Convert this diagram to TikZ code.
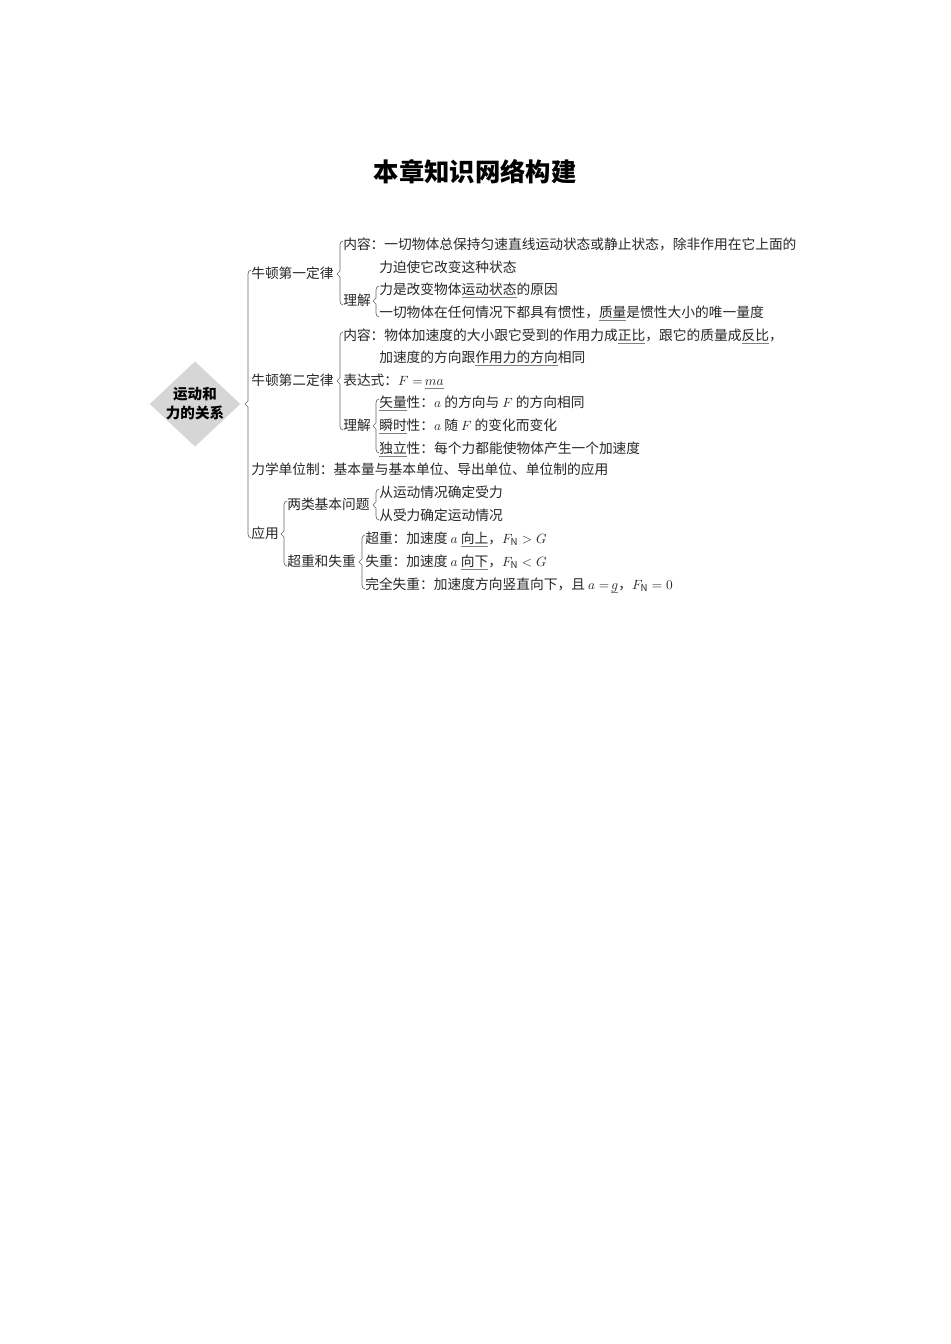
\documentclass[tikz,border=0pt]{standalone}
\usepackage{fontspec}
\setmainfont{Noto Sans CJK SC}
\usetikzlibrary{%
    calc,%
    shapes.geometric%
}

% Underlined blank, gray rule below the word
\newcommand{\fillin}[1]{%
    \setbox0\hbox{#1}\rlap{\color{black!50}\rule[-2.6pt]{\wd0}{0.5pt}}\box0}

% Thin bracket from a parent node to its first and last child
\newcommand{\branch}[3]{%
    \draw[branch line] ($(#2.west)+(0,-4)$) to[out=180,in=90] ($(#2.west)+(-3,0)$)
        -- ($(#1.east -| #2.west)+(-3,-3)$) -- ($(#1.east -| #2.west)+(-6,0)$)
        -- ($(#1.east -| #2.west)+(-3,3)$) -- ($(#3.west)+(-3,0)$)
        to[out=-90,in=180] ($(#3.west)+(0,4)$);}

\tikzset{
    item/.style={anchor=west, inner sep=0pt, text height=8.4pt, text depth=1.9pt,
        font=\fontsize{10.3}{12}\selectfont, text=black!85},
    branch line/.style={draw=black!60, line width=0.5pt},
    rootshape/.style={diamond, fill=black!16, minimum width=68pt, minimum height=64pt, inner sep=0pt}
}

\begin{document}
\begin{tikzpicture}[x=0.75pt,y=-0.75pt]
    \useasboundingbox (0,0) rectangle (950,1344);
    % Columns of the outline
    \pgfmathsetmacro{\colA}{251};
    \pgfmathsetmacro{\colB}{343};
    \pgfmathsetmacro{\colC}{379};

    % Title
    \node[font=\fontsize{19}{22}\selectfont\bfseries] (title) at (475,172) {本章知识网络构建};

    % Root diamond
    \node[rootshape] (root) at (195,404) {};
    \node[align=center, font=\fontsize{10.9}{14.2}\selectfont\bfseries] (roottext) at (root) {运动和\\力的关系};

    % First law
    \node[item] (law1) at (\colA,274) {牛顿第一定律};
    \node[item] (law1content) at (\colB,245) {内容：一切物体总保持匀速直线运动状态或静止状态，除非作用在它上面的};
    \node[item] (law1contentb) at (\colC,268) {力迫使它改变这种状态};
    \node[item] (law1grasp) at (\colB,301) {理解};
    \node[item] (law1graspA) at (\colC,290) {力是改变物体\fillin{运动状态}的原因};
    \node[item] (law1graspB) at (\colC,313) {一切物体在任何情况下都具有惯性，\fillin{质量}是惯性大小的唯一量度};

    % Second law
    \node[item] (law2) at (\colA,381) {牛顿第二定律};
    \node[item] (law2content) at (\colB,336) {内容：物体加速度的大小跟它受到的作用力成\fillin{正比}，跟它的质量成\fillin{反比}，};
    \node[item] (law2contentb) at (\colC,358) {加速度的方向跟\fillin{作用力的方向}相同};
    \node[item] (law2formula) at (\colB,381) {表达式：$F=$\,\fillin{$ma$}};
    \node[item] (law2grasp) at (\colB,426) {理解};
    \node[item] (law2graspA) at (\colC,403) {\fillin{矢量}性：$a$ 的方向与 $F$ 的方向相同};
    \node[item] (law2graspB) at (\colC,426) {\fillin{瞬时}性：$a$ 随 $F$ 的变化而变化};
    \node[item] (law2graspC) at (\colC,449) {\fillin{独立}性：每个力都能使物体产生一个加速度};

    % Units
    \node[item] (units) at (\colA,470) {力学单位制：基本量与基本单位、导出单位、单位制的应用};

    % Applications
    \node[item] (app) at (\colA,534) {应用};
    \node[item] (types) at (287,505) {两类基本问题};
    \node[item] (typesA) at (\colC,493) {从运动情况确定受力};
    \node[item] (typesB) at (\colC,516) {从受力确定运动情况};
    \node[item] (weight) at (287,562) {超重和失重};
    \node[item] (weightA) at (365,539) {超重：加速度 $a$ \fillin{向上}，$F_{\mathrm N}>G$};
    \node[item] (weightB) at (365,562) {失重：加速度 $a$ \fillin{向下}，$F_{\mathrm N}<G$};
    \node[item] (weightC) at (365,585) {完全失重：加速度方向竖直向下，且 $a=$\,\fillin{$g$}，$F_{\mathrm N}=0$};

    % Brackets
    \branch{root}{law1}{app}
    \branch{law1}{law1content}{law1grasp}
    \branch{law1grasp}{law1graspA}{law1graspB}
    \branch{law2}{law2content}{law2grasp}
    \branch{law2grasp}{law2graspA}{law2graspC}
    \branch{app}{types}{weight}
    \branch{types}{typesA}{typesB}
    \branch{weight}{weightA}{weightC}
\end{tikzpicture}
\end{document}
